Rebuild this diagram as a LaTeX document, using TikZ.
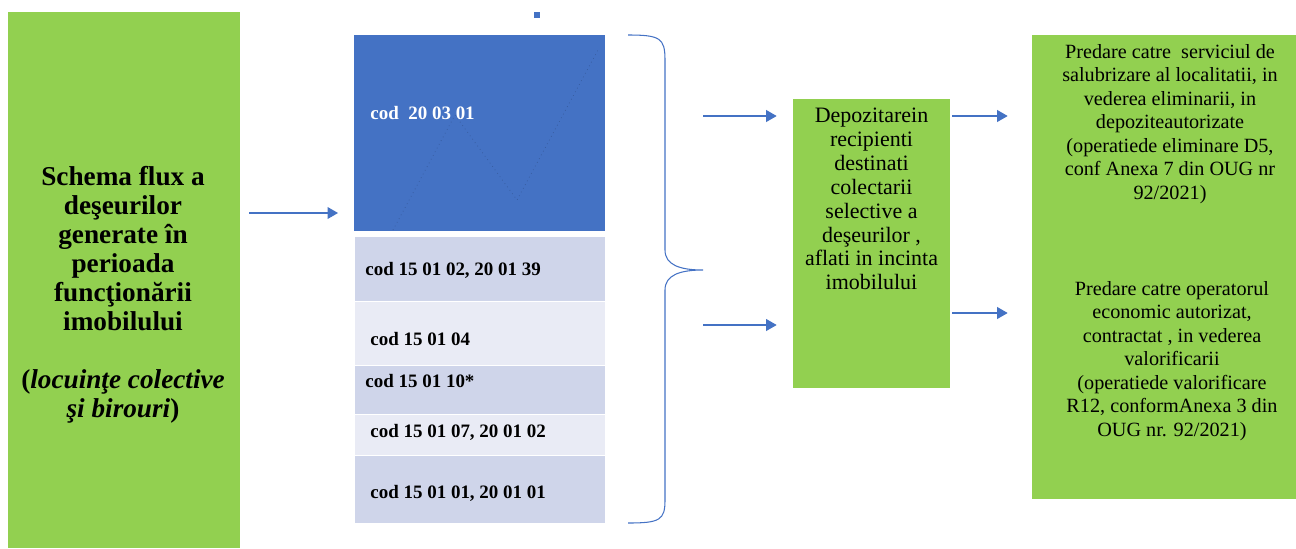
\documentclass[tikz,border=0pt]{standalone}
\usepackage{fontspec}
\setmainfont{Liberation Serif}
\usetikzlibrary{arrows}
\definecolor{verde}{RGB}{146,208,80}
\definecolor{albastru}{RGB}{68,114,196}
\definecolor{rand}{RGB}{207,213,234}
\definecolor{randdeschis}{RGB}{233,235,245}
\tikzstyle{every box} = []
\tikzstyle{box} = [rectangle, inner sep=0pt, every box]
\tikzstyle{sageata} = [->, >=triangle 60, draw=albastru, line width=0.6pt]
\tikzstyle{cod} = [anchor=west, inner sep=0pt, font=\fontsize{10.8}{12}\selectfont\bfseries]
\tikzstyle{text verde} = [align=center, inner sep=0pt, font=\fontsize{11.5}{13.4}\selectfont]

\begin{document}
\begin{tikzpicture}
                    \useasboundingbox (0,0) rectangle (25.92,-10.96);
                    \node[box, fill=verde, minimum width=4.64cm, minimum height=10.72cm] (schema) at (2.48,-5.6) {};
                    \node[align=center, inner sep=0pt, font=\fontsize{15.5}{16.5}\selectfont\bfseries] (schematext) at (2.46,-5.9) {Schema flux a\\ deşeurilor\\ generate în\\ perioada\\ funcţionării\\ imobilului\\[16.5pt] (\textit{locuinţe colective}\\ \textit{şi birouri})};

                    \node[box, fill=albastru, minimum width=5.02cm, minimum height=3.92cm] (cod1) at (9.59,-2.66) {};
                    \draw[albastru!60!black, dotted, opacity=0.5] (7.86,-4.60) -- (9.10,-2.30) -- (10.34,-4.00) -- (11.96,-1.00);
                    \node[box, fill=rand, draw=white, minimum width=5.02cm, minimum height=1.30cm] (cod2) at (9.59,-5.37) {};
                    \node[box, fill=randdeschis, draw=white, minimum width=5.02cm, minimum height=1.28cm] (cod3) at (9.59,-6.66) {};
                    \node[box, fill=rand, draw=white, minimum width=5.02cm, minimum height=0.98cm] (cod4) at (9.59,-7.79) {};
                    \node[box, fill=randdeschis, draw=white, minimum width=5.02cm, minimum height=0.82cm] (cod5) at (9.59,-8.69) {};
                    \node[box, fill=rand, draw=white, minimum width=5.02cm, minimum height=1.36cm] (cod6) at (9.59,-9.78) {};
                    \node[box, fill=albastru, minimum size=0.12cm] (punct) at (10.74,-0.30) {};

                    \node[cod, text=white] (c1) at (7.40,-2.26) {cod\ \ 20 03 01};
                    \node[cod] (c2) at (7.30,-5.40) {cod 15 01 02, 20 01 39};
                    \node[cod] (c3) at (7.40,-6.78) {cod 15 01 04};
                    \node[cod] (c4) at (7.30,-7.62) {cod 15 01 10*};
                    \node[cod] (c5) at (7.40,-8.64) {cod 15 01 07, 20 01 02};
                    \node[cod] (c6) at (7.40,-9.86) {cod 15 01 01, 20 01 01};

                    % acolada
                    \draw[albastru, line width=0.6pt] (12.56,-0.70) .. controls (13.20,-0.70) and (13.30,-0.76) .. (13.30,-1.20) -- (13.30,-5.00) .. controls (13.30,-5.30) and (13.60,-5.40) .. (14.06,-5.40) .. controls (13.60,-5.40) and (13.30,-5.50) .. (13.30,-5.80) -- (13.30,-10.00) .. controls (13.30,-10.40) and (13.20,-10.46) .. (12.56,-10.46);

                    \node[box, fill=verde, minimum width=3.14cm, minimum height=5.78cm] (depozitare) at (17.43,-4.87) {};
                    \node[text verde, font=\fontsize{12.5}{13.6}\selectfont] (depozitaretext) at (17.43,-3.98) {Depozitarein\\ recipienti\\ destinati\\ colectarii\\ selective a\\ deşeurilor ,\\ aflati in incinta\\ imobilului};

                    \node[box, fill=verde, minimum width=5.28cm, minimum height=9.28cm] (predare) at (23.28,-5.34) {};
                    \node[text verde] (eliminare) at (23.40,-2.48) {Predare catre\ \ serviciul de\\ salubrizare al localitatii, in\\ vederea eliminarii, in\\ depoziteautorizate\\ (operatiede eliminare D5,\\ conf Anexa 7 din OUG nr\\ 92/2021)};
                    \node[text verde] (valorificare) at (23.44,-7.22) {Predare catre operatorul\\ economic autorizat,\\ contractat , in vederea\\ valorificarii\\ (operatiede valorificare\\ R12, conformAnexa 3 din\\ OUG nr. 92/2021)};

                    \coordinate (in1) at (4.98,-4.26);
                    \coordinate (in2) at (6.76,-4.26);
                    \coordinate (a1) at (14.06,-2.32);
                    \coordinate (a2) at (14.06,-6.50);
                    \coordinate (b1) at (19.04,-2.32);
                    \coordinate (b2) at (19.04,-6.26);
                    \draw[sageata] (in1) -- (in2);
                    \draw[sageata, shorten >=0.32cm] (a1) -- (a1 -| depozitare.west);
                    \draw[sageata, shorten >=0.32cm] (a2) -- (a2 -| depozitare.west);
                    \draw[sageata, shorten >=0.48cm] (b1) -- (b1 -| predare.west);
                    \draw[sageata, shorten >=0.48cm] (b2) -- (b2 -| predare.west);
                \end{tikzpicture}
\end{document}
